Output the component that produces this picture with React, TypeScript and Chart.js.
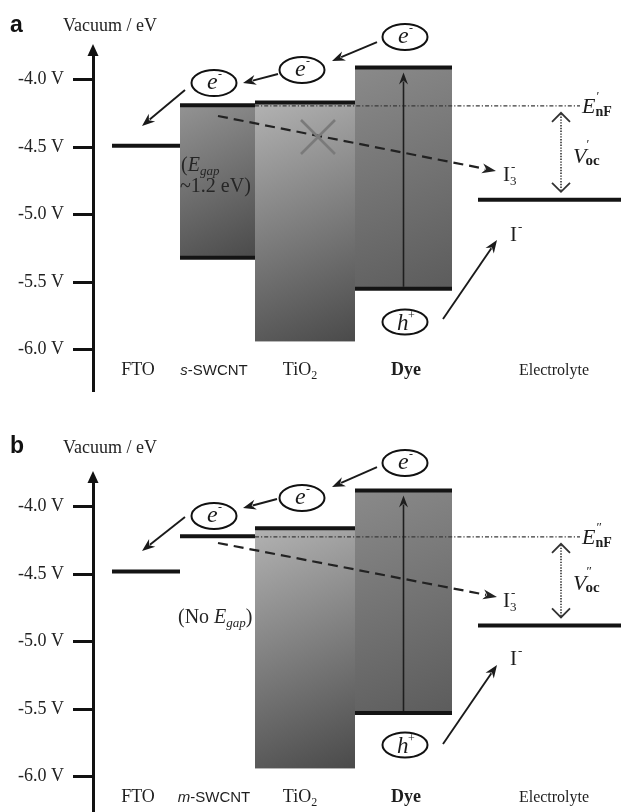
import React, { useEffect, useRef } from 'react';
import { Chart, registerables } from 'chart.js';

Chart.register(...registerables);

const SERIF = "'Liberation Serif', 'Times New Roman', 'DejaVu Serif', serif";
const SANS = "'Liberation Sans', Arial, 'DejaVu Sans', sans-serif";

// ---- data ----
const materials = ['FTO', 'SWCNT', 'TiO2', 'Dye', 'Electrolyte'];
const tickValues = [-6.0, -5.5, -5.0, -4.5, -4.0];
const Y_MIN = -6.3;
const Y_MAX = -3.78;

// energy levels (eV vs vacuum), panel a (s-SWCNT) and panel b (m-SWCNT)
const topLevelsA = [-4.49, -4.19, -4.17, -3.91, -4.89];
const bottomLevelsA = [null, -5.32, -5.94, -5.55, null];
const topLevelsB = [-4.48, -4.22, -4.16, -3.88, -4.88];
const bottomLevelsB = [null, null, -5.94, -5.53, null];

// ---- layout (x units on a hidden linear axis) ----
const X_MAX = 528;
const boxStart = [19, 87, 162, 262, 385];
const boxEnd = [87, 162, 262, 359, 528];
const labelCenters = [45, 121, 207, 313, 461];
const CAT_LABEL_Y = -6.19;
const bottomLine = [false, true, false, true, false];
const boxShades: any[] = [null, ['#939393', '#4a4a4a'], ['#b2b2b2', '#4a4a4a'], ['#8a8a8a', '#5c5c5c'], null];
const ENF_END = 487;
const VOC_X = 468;

const panelA = {
  letter: 'a', letterBaseline: 32, titleBaseline: 31,
  tops: topLevelsA, bottoms: bottomLevelsA, prefix: 's', prime: '\u2032',
  electrons: [[121, -4.025], [209, -3.928], [312, -3.684]],
  hole: [312, -5.796],
  arrows: [[284, -3.721, 239, -3.862], [185, -3.958, 150, -4.025], [92, -4.076, 49, -4.343], [350, -5.774, 404, -5.188]],
  dashed: [125, -4.269, 403, -4.677],
  cross: [225, -4.425],
  i3: [410, -4.751], iMinus: [417, -5.196],
  voc: [480, -4.618], enf: [489, -4.247],
  gapNote: true,
};

const panelB = {
  letter: 'b', letterBaseline: 26, titleBaseline: 26,
  tops: topLevelsB, bottoms: bottomLevelsB, prefix: 'm', prime: '\u2033',
  electrons: [[121, -4.069], [209, -3.936], [312, -3.676]],
  hole: [312, -5.766],
  arrows: [[284, -3.706, 239, -3.854], [184, -3.943, 150, -4.010], [92, -4.076, 49, -4.328], [350, -5.759, 404, -5.173]],
  dashed: [125, -4.269, 404, -4.669],
  cross: null,
  i3: [410, -4.744], iMinus: [417, -5.173],
  voc: [480, -4.618], enf: [489, -4.277],
  gapNote: false,
};

function measure(ctx: CanvasRenderingContext2D, parts: any[]) {
  let w = 0;
  for (const p of parts) {
    ctx.font = p.f;
    if (!p.keep) w += ctx.measureText(p.t).width + (p.dx || 0);
  }
  return w;
}

function rich(ctx: CanvasRenderingContext2D, x: number, y: number, parts: any[], center = false, color = '#1c1c1c') {
  let cx = center ? x - measure(ctx, parts) / 2 : x;
  ctx.fillStyle = color;
  ctx.textAlign = 'left';
  ctx.textBaseline = 'alphabetic';
  for (const p of parts) {
    ctx.font = p.f;
    ctx.fillText(p.t, cx + (p.dx || 0), y + (p.dy || 0));
    if (!p.keep) cx += ctx.measureText(p.t).width + (p.dx || 0);
  }
}

function arrow(ctx: CanvasRenderingContext2D, x1: number, y1: number, x2: number, y2: number, opts: any = {}) {
  const width = opts.width || 1.8;
  const head = opts.head || 11;
  const half = opts.half || 4.5;
  const ang = Math.atan2(y2 - y1, x2 - x1);
  const c = Math.cos(ang), s = Math.sin(ang);
  const bx = x2 - head * c, by = y2 - head * s;
  ctx.save();
  ctx.strokeStyle = opts.color || '#1a1a1a';
  ctx.fillStyle = opts.color || '#1a1a1a';
  ctx.lineWidth = width;
  ctx.setLineDash(opts.dash || []);
  ctx.beginPath();
  ctx.moveTo(x1, y1);
  ctx.lineTo(bx + 2 * c, by + 2 * s);
  ctx.stroke();
  ctx.setLineDash([]);
  ctx.beginPath();
  ctx.moveTo(x2, y2);
  ctx.lineTo(bx - half * s - 1 * c, by + half * c - 1 * s);
  ctx.lineTo(bx + 3 * c, by + 3 * s);
  ctx.lineTo(bx + half * s - 1 * c, by - half * c - 1 * s);
  ctx.closePath();
  ctx.fill();
  ctx.restore();
}

function makeBoxPlugin(cfg: any) {
  return {
    id: 'bandBoxes',
    beforeDatasetsDraw(chart: any) {
      const ctx = chart.ctx;
      const sx = chart.scales.x, sy = chart.scales.y;
      ctx.save();
      materials.forEach((m, i) => {
        const b = cfg.bottoms[i];
        if (b == null || !boxShades[i]) return;
        const x0 = sx.getPixelForValue(boxStart[i]);
        const x1 = sx.getPixelForValue(boxEnd[i]);
        const y0 = sy.getPixelForValue(cfg.tops[i]);
        const y1 = sy.getPixelForValue(b);
        const g = ctx.createLinearGradient(x0, y0, x1, y1);
        g.addColorStop(0, boxShades[i][0]);
        g.addColorStop(1, boxShades[i][1]);
        ctx.fillStyle = g;
        ctx.fillRect(x0, y0, x1 - x0, y1 - y0);
      });
      ctx.restore();
    },
  };
}

function makeAnnotPlugin(cfg: any) {
  return {
    id: 'bandAnnotations',
    afterDraw(chart: any) {
      const ctx: CanvasRenderingContext2D = chart.ctx;
      const sx = chart.scales.x, sy = chart.scales.y;
      const X = (v: number) => sx.getPixelForValue(v);
      const Y = (v: number) => sy.getPixelForValue(v);
      const area = chart.chartArea;
      ctx.save();

      // y-axis arrow head
      ctx.fillStyle = '#111';
      ctx.beginPath();
      ctx.moveTo(area.left, area.top - 6);
      ctx.lineTo(area.left - 5.5, area.top + 6);
      ctx.lineTo(area.left + 5.5, area.top + 6);
      ctx.closePath();
      ctx.fill();

      // panel letter and title
      rich(ctx, 10, cfg.letterBaseline, [{ t: cfg.letter, f: `bold 23px ${SANS}` }], false, '#111');
      rich(ctx, 63, cfg.titleBaseline, [{ t: 'Vacuum / eV', f: `18px ${SERIF}` }], false, '#222');

      // quasi-Fermi level (dash-dot)
      const enfY = Y(cfg.tops[1]) + 0.5;
      ctx.strokeStyle = '#3a3a3a';
      ctx.lineWidth = 1.3;
      ctx.setLineDash([4, 2, 1.2, 2]);
      ctx.beginPath();
      ctx.moveTo(X(boxStart[2]), enfY);
      ctx.lineTo(X(ENF_END), enfY);
      ctx.stroke();
      ctx.setLineDash([]);

      // Voc double arrow (dotted)
      const vx = X(VOC_X);
      const vTop = enfY + 7;
      const vBot = Y(cfg.tops[4]) - 8;
      ctx.strokeStyle = '#333';
      ctx.lineWidth = 1.6;
      ctx.setLineDash([1.4, 1.4]);
      ctx.beginPath();
      ctx.moveTo(vx, vTop + 1);
      ctx.lineTo(vx, vBot - 1);
      ctx.stroke();
      ctx.setLineDash([]);
      ctx.lineWidth = 1.8;
      ctx.beginPath();
      ctx.moveTo(vx - 9, vTop + 9); ctx.lineTo(vx, vTop); ctx.lineTo(vx + 9, vTop + 9);
      ctx.moveTo(vx - 9, vBot - 9); ctx.lineTo(vx, vBot); ctx.lineTo(vx + 9, vBot - 9);
      ctx.stroke();

      // Dye excitation arrow
      const dx = X((boxStart[3] + boxEnd[3]) / 2);
      arrow(ctx, dx, Y(cfg.bottoms[3]) - 2, dx, Y(cfg.tops[3]) + 5, { width: 1.6, head: 11, half: 4.5, color: '#1e1e1e' });

      // recombination dashed arrow
      const d = cfg.dashed;
      arrow(ctx, X(d[0]), Y(d[1]), X(d[2]), Y(d[3]), { width: 2.2, head: 13, half: 5, dash: [10, 6], color: '#222' });

      // blocked transfer cross
      if (cfg.cross) {
        const cx = X(cfg.cross[0]), cy = Y(cfg.cross[1]);
        ctx.strokeStyle = '#7a7a7a';
        ctx.lineWidth = 2.6;
        ctx.beginPath();
        ctx.moveTo(cx - 17, cy - 17); ctx.lineTo(cx + 17, cy + 17);
        ctx.moveTo(cx + 17, cy - 17); ctx.lineTo(cx - 17, cy + 17);
        ctx.stroke();
      }

      // electron / hole circles
      ctx.strokeStyle = '#111';
      ctx.lineWidth = 2;
      cfg.electrons.forEach((e: number[]) => {
        const cx = X(e[0]), cy = Y(e[1]);
        ctx.beginPath();
        ctx.ellipse(cx, cy, 22.5, 13, 0, 0, Math.PI * 2);
        ctx.stroke();
        rich(ctx, cx - 7, cy + 6, [{ t: 'e', f: `italic 24px ${SERIF}` }], false, '#1a1a1a');
        rich(ctx, cx + 4, cy - 5, [{ t: '-', f: `12px ${SERIF}` }], false, '#1a1a1a');
      });
      {
        const cx = X(cfg.hole[0]), cy = Y(cfg.hole[1]);
        ctx.beginPath();
        ctx.ellipse(cx, cy, 22.5, 12.5, 0, 0, Math.PI * 2);
        ctx.stroke();
        rich(ctx, cx - 8, cy + 8, [{ t: 'h', f: `italic 23px ${SERIF}` }], false, '#1a1a1a');
        rich(ctx, cx + 3, cy - 3, [{ t: '+', f: `12px ${SERIF}` }], false, '#1a1a1a');
      }

      // transfer arrows
      cfg.arrows.forEach((a: number[]) => {
        arrow(ctx, X(a[0]), Y(a[1]), X(a[2]), Y(a[3]), { width: 1.9, head: 12, half: 5 });
      });

      // redox species labels
      rich(ctx, X(cfg.i3[0]), Y(cfg.i3[1]), [
        { t: 'I', f: `21px ${SERIF}` },
        { t: '-', f: `13px ${SERIF}`, dy: -10, dx: 1, keep: true },
        { t: '3', f: `13px ${SERIF}`, dy: 4 },
      ]);
      rich(ctx, X(cfg.iMinus[0]), Y(cfg.iMinus[1]), [
        { t: 'I', f: `21px ${SERIF}` },
        { t: '-', f: `13px ${SERIF}`, dy: -10, dx: 1 },
      ]);

      // E_nF and Voc labels
      rich(ctx, X(cfg.enf[0]), Y(cfg.enf[1]), [
        { t: 'E', f: `italic 22px ${SERIF}` },
        { t: cfg.prime, f: `13px ${SERIF}`, dy: -13, dx: 1, keep: true },
        { t: 'nF', f: `bold 14px ${SERIF}`, dy: 3, dx: 0 },
      ]);
      rich(ctx, X(cfg.voc[0]), Y(cfg.voc[1]), [
        { t: 'V', f: `italic 22px ${SERIF}` },
        { t: cfg.prime, f: `13px ${SERIF}`, dy: -15, dx: 0, keep: true },
        { t: 'oc', f: `bold 15px ${SERIF}`, dy: 2, dx: -1 },
      ]);

      // band-gap notes
      if (cfg.gapNote) {
        rich(ctx, X(88), Y(-4.677), [
          { t: '(', f: `20px ${SERIF}` },
          { t: 'E', f: `italic 20px ${SERIF}` },
          { t: 'gap', f: `italic 13px ${SERIF}`, dy: 4 },
        ], false, '#262626');
        rich(ctx, X(87), Y(-4.832), [{ t: '~1.2 eV)', f: `20px ${SERIF}` }], false, '#262626');
      } else {
        rich(ctx, X(85), Y(-4.862), [
          { t: '(No ', f: `20px ${SERIF}` },
          { t: 'E', f: `italic 20px ${SERIF}` },
          { t: 'gap', f: `italic 13px ${SERIF}`, dy: 4 },
          { t: ')', f: `20px ${SERIF}` },
        ], false, '#262626');
      }

      // category labels
      const ly = Y(CAT_LABEL_Y);
      const catParts: any[][] = [
        [{ t: 'FTO', f: `18px ${SERIF}` }],
        [{ t: cfg.prefix, f: `italic 15px ${SANS}` }, { t: '-SWCNT', f: `15px ${SANS}` }],
        [{ t: 'TiO', f: `18px ${SERIF}` }, { t: '2', f: `12px ${SERIF}`, dy: 4 }],
        [{ t: 'Dye', f: `bold 18px ${SERIF}` }],
        [{ t: 'Electrolyte', f: `16px ${SERIF}` }],
      ];
      materials.forEach((m, i) => {
        rich(ctx, X(labelCenters[i]), ly, catParts[i], true, '#1e1e1e');
      });

      ctx.restore();
    },
  };
}

function levelDatasets(cfg: any) {
  const ds: any[] = [];
  const style = {
    borderColor: '#141414',
    backgroundColor: '#141414',
    borderWidth: 4,
    pointRadius: 0,
    showLine: true,
    fill: false,
    borderCapStyle: 'butt',
  };
  materials.forEach((m, i) => {
    ds.push({ label: m + ' upper', data: [{ x: boxStart[i], y: cfg.tops[i] }, { x: boxEnd[i], y: cfg.tops[i] }], ...style });
    if (cfg.bottoms[i] != null && bottomLine[i]) {
      ds.push({ label: m + ' lower', data: [{ x: boxStart[i], y: cfg.bottoms[i] }, { x: boxEnd[i], y: cfg.bottoms[i] }], ...style });
    }
  });
  return ds;
}

function Panel({ cfg }: { cfg: any }) {
  const ref = useRef<HTMLCanvasElement>(null);
  useEffect(() => {
    if (!ref.current) return;
    const chart = new Chart(ref.current, {
      type: 'scatter',
      data: { datasets: levelDatasets(cfg) },
      options: {
        responsive: false,
        animation: false,
        devicePixelRatio: 1,
        events: [],
        layout: { padding: { top: 50, bottom: 37, left: 0, right: 0 } },
        plugins: { legend: { display: false }, tooltip: { enabled: false } },
        scales: {
          x: { type: 'linear', min: 0, max: X_MAX, display: false },
          y: {
            type: 'linear',
            position: 'left',
            min: Y_MIN,
            max: Y_MAX,
            afterFit: (s: any) => { s.width = 93; },
            afterBuildTicks: (s: any) => { s.ticks = tickValues.map((v) => ({ value: v })); },
            ticks: {
              callback: (v: any) => Number(v).toFixed(1) + ' V',
              font: { family: SERIF, size: 18 },
              color: '#222',
              padding: 9,
              autoSkip: false,
            },
            grid: { drawOnChartArea: false, drawTicks: true, tickLength: 20, color: '#111', lineWidth: 3 },
            border: { display: true, color: '#111', width: 3 },
          },
        },
      } as any,
      plugins: [makeBoxPlugin(cfg), makeAnnotPlugin(cfg)],
    });
    return () => chart.destroy();
  }, [cfg]);
  return <canvas ref={ref} width={621} height={427} style={{ display: 'block', width: 621, height: 427 }} />;
}

export default function App() {
  return (
    <div style={{ position: 'absolute', left: 0, top: 0, width: 621, height: 812, overflow: 'hidden', background: '#fff' }}>
      <Panel cfg={panelA} />
      <Panel cfg={panelB} />
    </div>
  );
}
